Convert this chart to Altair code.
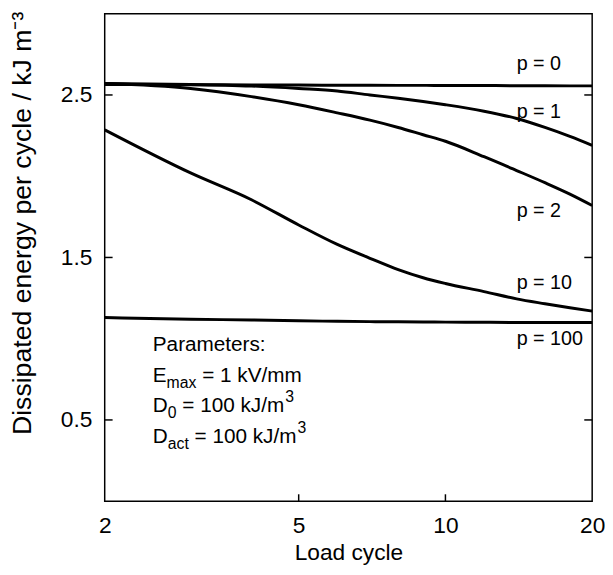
import altair as alt
import pandas as pd

# ---------------- data ----------------
cycles = [2, 3, 4, 5, 6, 7, 8, 9, 10, 12, 14, 16, 18, 20]
p0 = [2.565, 2.563, 2.562, 2.561, 2.560, 2.560, 2.559, 2.559, 2.558, 2.558, 2.557, 2.557, 2.556, 2.556]
p1 = [2.57, 2.565, 2.555, 2.54, 2.525, 2.50, 2.48, 2.46, 2.44, 2.40, 2.355, 2.30, 2.245, 2.19]
p2 = [2.57, 2.54, 2.49, 2.44, 2.39, 2.345, 2.30, 2.255, 2.215, 2.12, 2.035, 1.96, 1.89, 1.82]
p10 = [2.285, 2.02, 1.855, 1.70, 1.58, 1.495, 1.425, 1.375, 1.34, 1.29, 1.245, 1.215, 1.19, 1.17]
p100 = [1.13, 1.12, 1.115, 1.11, 1.107, 1.105, 1.104, 1.103, 1.102, 1.101, 1.10, 1.10, 1.10, 1.10]

series_names = ["p = 0", "p = 1", "p = 2", "p = 10", "p = 100"]
series_vals = [p0, p1, p2, p10, p100]

x_ticks = [2, 5, 10, 20]
x_inner_ticks = [5, 10]
y_ticks = [0.5, 1.5, 2.5]

label_x = 14.0
label_y = [2.69, 2.392, 1.785, 1.342, 0.996]

param_x = 2.51
param_baselines = [0.923, 0.735, 0.547, 0.358]

# ---------------- layout ----------------
W, H = 494, 494
FONT = "Liberation Sans"
F = 21      # parameter text size
FS = 16     # sub/superscript size

rows = []
for name, vals in zip(series_names, series_vals):
    for c, v in zip(cycles, vals):
        rows.append({"cycle": c, "energy": v, "p": name})
df = pd.DataFrame(rows)

xscale = alt.Scale(type="log", domain=[2, 20], nice=False)
yscale = alt.Scale(domain=[0, 3], nice=False, zero=False)

xaxis = alt.Axis(values=x_ticks, format="d", title="Load cycle", grid=False, ticks=False,
                 tickSize=0, domain=False, labelFontSize=23, labelPadding=32,
                 labelBaseline="alphabetic", labelFlush=False, labelOverlap=False,
                 labelBound=False, titleFontSize=23, titleFontWeight="normal",
                 titleBaseline="alphabetic", titleY=59, labelColor="black",
                 titleColor="black", labelFont=FONT, titleFont=FONT)
yaxis = alt.Axis(values=y_ticks, format=".1f",
                 title="Dissipated energy per cycle  / kJ m\u207b\u00b3",
                 grid=False, ticks=False, tickSize=0, domain=False, labelFontSize=23,
                 labelPadding=13, labelFlush=False, labelOverlap=False,
                 titleFontSize=27, titleFontWeight="normal", titleBaseline="middle",
                 titleX=-83, titleY=212, titleAlign="center", titleAngle=270,
                 labelColor="black", titleColor="black", labelFont=FONT, titleFont=FONT)


def X(field):
    return alt.X(field, scale=xscale, axis=xaxis)


def Y(field):
    return alt.Y(field, scale=yscale, axis=yaxis)


lines = alt.Chart(df).mark_line(color="black", strokeWidth=3, interpolate="monotone", clip=True).encode(
    x=X("cycle:Q"), y=Y("energy:Q"), detail="p:N",
)

yt = pd.DataFrame({"v": y_ticks})
xt = pd.DataFrame({"v": x_inner_ticks})
tick_style = dict(color="black", strokeWidth=1.5)
ytick_left = alt.Chart(yt).mark_rule(**tick_style).encode(
    y=Y("v:Q"), x=alt.value(0), x2=alt.value(8))
ytick_right = alt.Chart(yt).mark_rule(**tick_style).encode(
    y=Y("v:Q"), x=alt.value(W - 8), x2=alt.value(W))
xtick_bottom = alt.Chart(xt).mark_rule(**tick_style).encode(
    x=X("v:Q"), y=alt.value(H - 7), y2=alt.value(H))

plab = pd.DataFrame({"x": [label_x] * len(series_names), "y": label_y, "t": series_names})
labels = alt.Chart(plab).mark_text(align="left", baseline="middle", fontSize=20, font=FONT,
                                   color="black").encode(
    x=X("x:Q"), y=Y("y:Q"), text="t:N",
)

# Arial / Liberation Sans advance widths (em)
AW = {"=": 0.584, " ": 0.278, "1": 0.556, "0": 0.556, "3": 0.556, "k": 0.5, "J": 0.5, "/": 0.278,
      "m": 0.833, "V": 0.667, "D": 0.722, "E": 0.667, "a": 0.556, "c": 0.5, "t": 0.278, "x": 0.5}


def tw(s, size):
    return sum(AW.get(ch, 0.556) for ch in s) * size


def frag(text, y, dx, dy, size):
    d = pd.DataFrame({"x": [param_x], "y": [y], "t": [text]})
    return alt.Chart(d).mark_text(align="left", baseline="alphabetic", fontSize=size, font=FONT,
                                  color="black", dx=dx, dy=dy).encode(
        x=X("x:Q"), y=Y("y:Q"), text="t:N",
    )


frags = [frag("Parameters:", param_baselines[0], 0, 0, F)]
# E_max = 1 kV/mm
d1 = tw("E", F)
frags.append(frag("E", param_baselines[1], 0, 0, F))
frags.append(frag("max", param_baselines[1], d1, 6, FS))
d2 = d1 + tw("max", FS) + tw(" ", F)
frags.append(frag("= 1 kV/mm", param_baselines[1], d2, 0, F))
# D_0 = 100 kJ/m^3
d1 = tw("D", F)
frags.append(frag("D", param_baselines[2], 0, 0, F))
frags.append(frag("0", param_baselines[2], d1, 6, FS))
d2 = d1 + tw("0", FS) + tw(" ", F)
frags.append(frag("= 100 kJ/m", param_baselines[2], d2, 0, F))
d3 = d2 + tw("= 100 kJ/m", F) + 1
frags.append(frag("3", param_baselines[2], d3, -10, FS))
# D_act = 100 kJ/m^3
d1 = tw("D", F)
frags.append(frag("D", param_baselines[3], 0, 0, F))
frags.append(frag("act", param_baselines[3], d1, 6, FS))
d2 = d1 + tw("act", FS) + tw(" ", F)
frags.append(frag("= 100 kJ/m", param_baselines[3], d2, 0, F))
d3 = d2 + tw("= 100 kJ/m", F) + 1
frags.append(frag("3", param_baselines[3], d3, -10, FS))

chart = alt.layer(lines, ytick_left, ytick_right, xtick_bottom, labels, *frags).properties(
    width=W, height=H,
    autosize=alt.AutoSizeParams(type="none"),
    padding={"left": 98, "top": 2, "right": 13, "bottom": 71},
).configure(font=FONT).configure_view(stroke="black", strokeWidth=1.5)

chart.save("out.html", embed_options={"renderer": "svg", "actions": False})
